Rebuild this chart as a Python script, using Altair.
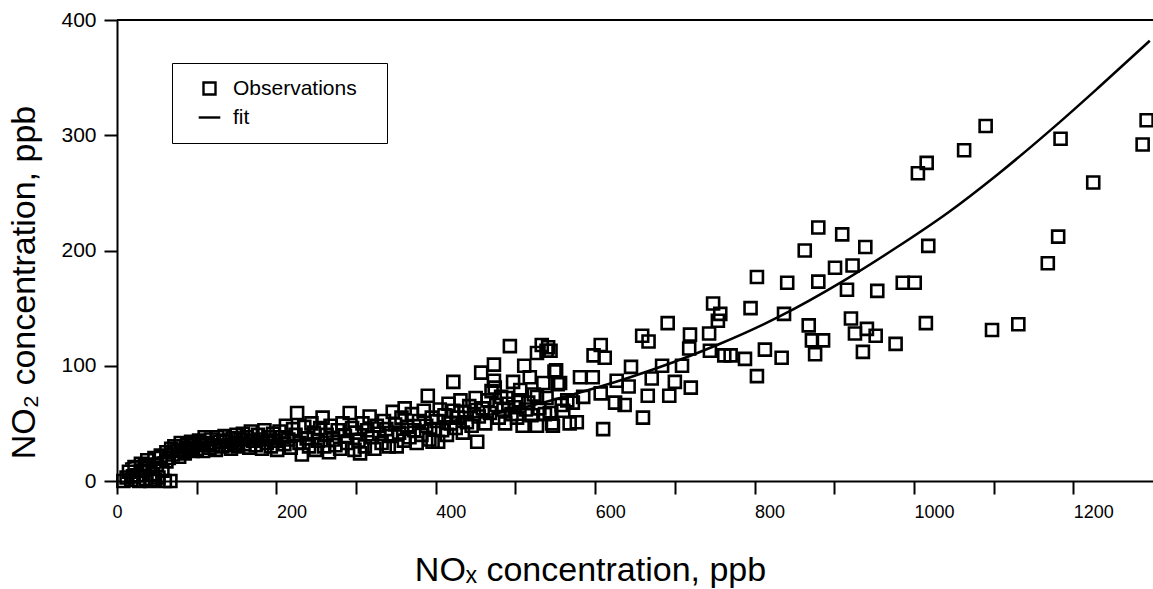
import altair as alt
import pandas as pd

# ---- observations (NOx, NO2), in four x-ranges ----
low_x = [8, 12, 15, 18, 20, 22, 25, 28, 30, 33, 35, 36, 38, 40, 42, 45, 47, 48, 50, 52, 55, 57, 60, 62, 67,
         62, 65, 68, 70, 72, 75, 78, 80, 83, 85, 88, 90, 93, 95, 98,
         100, 103, 106, 108, 110, 113, 116, 118, 121, 124, 126, 129, 132, 135, 137, 140, 143, 145, 148, 150,
         152, 155, 158, 160, 163, 166, 168, 171, 174, 177, 180, 182, 185, 188, 190, 193, 196, 198]
low_y = [0, 3, 8, 1, 4, 12, 5, 0, 15, 9, 13, 2, 18, 11, 0, 6, 20, 1, 14, 3, 22, 9, 0, 17, 0,
         25, 20, 28, 23, 30, 26, 21, 33, 27, 24, 31, 29, 34, 26, 32,
         28, 35, 31, 26, 38, 33, 29, 36, 31, 27, 38, 34, 30, 39, 35, 31, 28, 37, 33, 40,
         30, 36, 41, 32, 38, 29, 43, 35, 31, 40, 36, 28, 44, 33, 38, 30, 41, 35]

mid_x = [201, 204, 207, 210, 212, 215, 218, 221, 224, 226, 229, 232, 235, 238, 241, 244, 247, 249,
         252, 255, 258, 260, 263, 266, 268, 271, 274, 277, 280, 283, 286, 289, 292, 295, 298, 300,
         303, 305, 308, 311, 314, 317, 320, 323, 326, 329, 332, 335, 338, 341, 344, 346, 349, 351,
         354, 357, 360, 361, 364, 367, 370, 373, 376, 379, 382, 385, 388, 390, 392, 395, 396, 398]
mid_y = [27, 43, 38, 32, 48, 36, 29, 45, 40, 59, 33, 23, 47, 37, 30, 50, 42, 27,
         35, 46, 55, 30, 40, 25, 48, 36, 31, 44, 28, 50, 39, 33, 59, 46, 27, 42,
         35, 24, 50, 30, 44, 56, 38, 28, 48, 41, 33, 52, 45, 30, 39, 60, 49, 30,
         42, 55, 35, 63, 47, 38, 58, 44, 33, 52, 40, 61, 48, 74, 36, 55, 34, 45]

upper_x = [401, 403, 405, 408, 411, 414, 416, 419, 422, 422, 425, 428, 431, 434, 436, 439, 442, 445, 448, 450, 452,
           454, 457, 459, 462, 465, 468, 470, 473, 473, 474, 476, 479, 482, 485, 487, 489, 491, 493, 495, 497, 499,
           502, 504, 506, 509, 511, 513, 516, 518, 520, 523, 527, 527, 527, 530, 533, 535, 537, 539, 539, 541,
           543, 544, 546, 547, 549, 551, 553, 556, 558, 560, 565, 568, 572, 577]
upper_y = [52, 34, 62, 44, 57, 40, 67, 50, 86, 61, 46, 55, 70, 42, 60, 51, 65, 48, 58, 72, 34,
           56, 94, 63, 50, 70, 59, 78, 101, 87, 81, 66, 55, 73, 62, 50, 72, 67, 117, 58, 86, 64,
           55, 70, 79, 48, 100, 62, 68, 90, 57, 75, 111, 73, 48, 63, 118, 85, 58, 113, 72, 116,
           59, 113, 50, 48, 95, 96, 84, 85, 66, 61, 70, 50, 68, 51]

high_x = [581, 585, 597, 598, 607, 607, 610, 612, 625, 627, 637, 642, 645, 659, 660, 666, 667, 671, 684, 691,
          693, 700, 709, 718, 719, 720, 743, 744, 748, 754, 757, 762, 770, 788, 795, 803, 803, 813, 834, 837,
          841, 863, 868, 872, 876, 880, 880, 886, 901, 910, 916, 921, 923, 926, 936, 939, 941, 952, 954, 977,
          986, 1001, 1005, 1015, 1016, 1018, 1063, 1090, 1098, 1131, 1168, 1181, 1184, 1225, 1287, 1292]
high_y = [90, 73, 90, 109, 118, 76, 45, 107, 68, 87, 66, 82, 99, 126, 55, 74, 121, 89, 100, 137,
          74, 86, 100, 115, 127, 81, 128, 113, 154, 139, 145, 109, 109, 106, 150, 177, 91, 114, 107, 145,
          172, 200, 135, 122, 110, 220, 173, 122, 185, 214, 166, 141, 187, 128, 112, 203, 132, 126, 165, 119,
          172, 172, 267, 137, 276, 204, 287, 308, 131, 136, 189, 212, 297, 259, 292, 313]

# ---- fitted curve (hidden inside the point cloud below ~550) ----
fit_x = [10, 100, 200, 300, 400, 500, 556, 644, 698, 753, 832, 910, 979, 1043, 1105, 1179, 1231, 1296]
fit_y = [15, 26, 34, 41, 50, 62, 72, 90, 103, 118, 143, 173, 203, 233, 266, 309, 341, 382]

series_names = ["Observations", "fit"]
x_ticks = list(range(0, 1300, 100))
y_ticks = [0, 100, 200, 300, 400]

obs = pd.DataFrame({
    "nox": low_x + mid_x + upper_x + high_x,
    "no2": low_y + mid_y + upper_y + high_y,
})
obs["series"] = series_names[0]
fit = pd.DataFrame({"nox": fit_x, "no2": fit_y})

FONT = "Liberation Sans"

x_scale = alt.Scale(domain=[0, 1300], nice=False, zero=False)
y_scale = alt.Scale(domain=[0, 400], nice=False)

x_axis = alt.Axis(
    values=x_ticks, format="d", grid=False,
    labelExpr="datum.value % 200 == 0 ? datum.label : ''",
    labelAlign={"condition": {"test": "datum.value == 0", "value": "center"}, "value": "left"},
    labelFontSize=18, labelPadding=9, labelColor="black", labelFont=FONT,
    tickSize=13, tickWidth=2, tickColor="black",
    domainWidth=2, domainColor="black",
    title="NOₓ concentration, ppb", titleFontSize=34, titleFontWeight="normal",
    titleFont=FONT, titleColor="black",
    titleX=473, titleY=99, titleAlign="center", titleBaseline="alphabetic",
)
y_axis = alt.Axis(
    values=y_ticks, grid=False,
    labelFontSize=21, labelPadding=8, labelColor="black", labelFont=FONT,
    tickSize=13, tickWidth=2, tickColor="black",
    domainWidth=2, domainColor="black",
    title="NO₂ concentration, ppb", titleFontSize=34, titleFontWeight="normal",
    titleFont=FONT, titleColor="black",
    titleX=-93, titleY=262, titleAngle=270, titleAlign="center", titleBaseline="middle",
)

points = alt.Chart(obs).mark_point(
    filled=False, color="black", strokeWidth=2.6, size=144, opacity=1
).encode(
    x=alt.X("nox:Q", scale=x_scale, axis=x_axis),
    y=alt.Y("no2:Q", scale=y_scale, axis=y_axis),
    shape=alt.Shape(
        "series:N",
        scale=alt.Scale(domain=series_names, range=["square", "M-1.8,0H1.8"]),
        legend=alt.Legend(
            title=None, orient="none", legendX=55, legendY=43,
            labelFontSize=21, labelFont=FONT, labelColor="black",
            labelExpr="datum.label + '\u2800'",
            symbolSize=144, symbolStrokeWidth=2.4, symbolStrokeColor="black",
            symbolOffset=12, labelOffset=13, rowPadding=6, padding=15,
            strokeColor="black", fillColor="white",
        ),
    ),
)

curve = alt.Chart(fit).mark_line(
    color="black", strokeWidth=2.5, interpolate="monotone"
).encode(
    x=alt.X("nox:Q", scale=x_scale),
    y=alt.Y("no2:Q", scale=y_scale),
)

frame_top = alt.Chart(pd.DataFrame({"edge": [y_ticks[-1]]})).mark_rule(
    color="black", strokeWidth=2
).encode(y=alt.Y("edge:Q", scale=y_scale))

chart = alt.layer(points, curve, frame_top).properties(
    width=1036,
    height=461,
    padding={"left": 117, "top": 20, "right": 0, "bottom": 108},
    autosize=alt.AutoSizeParams(type="none"),
    background="white",
).configure_view(
    strokeWidth=0
).configure_legend(
    strokeWidth=2
).configure(
    font=FONT
)

chart.save("out.html", embed_options={"renderer": "svg", "actions": False})
